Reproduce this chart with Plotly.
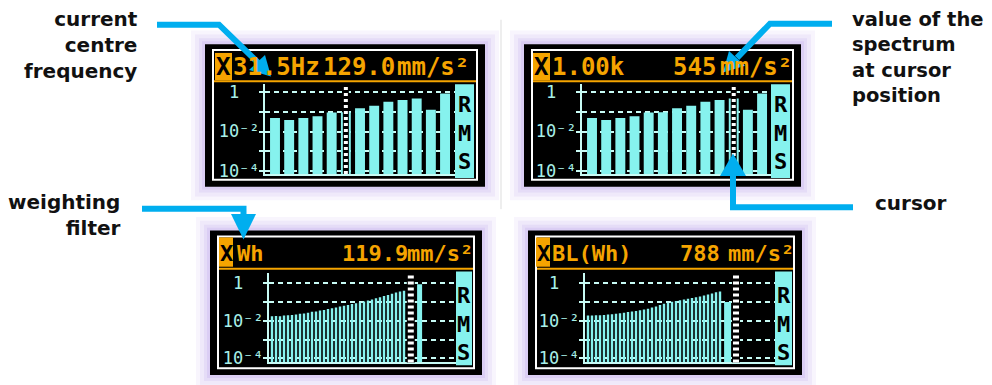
import plotly.graph_objects as go

W, H = 992, 385          # browser window
OFF = 8                  # default page margin around the plot div
FW, FH = W - OFF, H - OFF

# ---------------- data ----------------
octave_bands = list(range(13))
octave_rms = [0.049, 0.038, 0.049, 0.060, 0.093, 0.095, 0.15, 0.20, 0.32, 0.39, 0.47, 0.126, 0.83]

third_bands = list(range(34))
wh_rms = [0.0174, 0.0182, 0.0174, 0.0191, 0.0200, 0.0209, 0.0219, 0.0240, 0.0251, 0.0275,
          0.0302, 0.0316, 0.0355, 0.0380, 0.0427, 0.0468, 0.0513, 0.0575, 0.0646, 0.0708,
          0.0794, 0.0871, 0.0955, 0.107, 0.120, 0.138, 0.158, 0.182, 0.209, 0.240,
          0.275, 0.324, 0.363, 0.398]
bl_rms = [0.0191, 0.0191, 0.0200, 0.0200, 0.0209, 0.0219, 0.0229, 0.0240, 0.0257, 0.0275,
          0.0295, 0.0316, 0.0339, 0.0363, 0.0398, 0.0447, 0.0513, 0.0589, 0.0692, 0.0813,
          0.0933, 0.105, 0.115, 0.126, 0.138, 0.151, 0.166, 0.182, 0.200, 0.224,
          0.251, 0.288, 0.331, 0.372]
wh_total_band = [36.9]
wh_total_rms = [0.89]
bl_total_band = [34.9]
bl_total_rms = [0.10]

cursor_bands = [5, 10, 34.7, 37]
header_freq = ["31.5Hz", "1.00k", "Wh", "BL(Wh)"]
header_value = ["129.0", "545", "119.9", "788"]
unit_label = "mm/s²"
y_tick_values = [1e-4, 1e-3, 1e-2, 1e-1, 1]
y_tick_labels = ["10⁻⁴", "", "10⁻²", "", "1\u00a0\u00a0"]
side_letters = ["R", "M", "S"]

# ---------------- styles / layout ----------------
ORANGE = "#F5A400"
CYAN = "#86F2EE"
LCDLINE = "#C8FBF5"
ARROW = "#00AEEF"
MONO = "DejaVu Sans Mono"


def px(x):
    return (x - OFF) / FW


def py(y):
    return 1 - (y - OFF) / FH


panels = [
    dict(frame=(205, 43, 485, 189), xbox=(215, 232, 52, 80), underline=81,
         plot=(265, 455, 84, 176), rms=(455, 474, 84, 180),
         yr=[-4.148, 0.395], xr=[-0.706, 12.703], size=24,
         fx=231, vx=321, ux=395, ty=66, ly=134),
    dict(frame=(524, 43, 801, 189), xbox=(533, 550, 52, 80), underline=81,
         plot=(582, 771, 84, 176), rms=(771, 790, 84, 180),
         yr=[-4.148, 0.395], xr=[-0.706, 12.63], size=24,
         fx=550, vx=671, ux=718, ty=66, ly=134),
    dict(frame=(210, 234, 482, 382), xbox=(219, 233, 241, 271), underline=273,
         plot=(269, 456, 277, 369), rms=(456, 472, 276, 372),
         yr=[-4.208, 0.571], xr=[-0.75, 46.0], size=22,
         fx=235, vx=340, ux=405, ty=257, ly=330),
    dict(frame=(528, 234, 802, 382), xbox=(536, 550, 241, 271), underline=273,
         plot=(585, 775, 277, 369), rms=(775, 792, 276, 372),
         yr=[-4.208, 0.571], xr=[-0.75, 46.75], size=22,
         fx=550, vx=678, ux=726, ty=257, ly=330),
]

fig = go.Figure()

series = [
    [(octave_bands, octave_rms, 0.7)],
    [(octave_bands, octave_rms, 0.7)],
    [(third_bands, wh_rms, 0.6), (wh_total_band, wh_total_rms, 1.25)],
    [(third_bands, bl_rms, 0.6), (bl_total_band, bl_total_rms, 1.75)],
]


def sfx(n):
    return "" if n == 1 else str(n)


for n, traces in enumerate(series, start=1):
    for xs, ys, wd in traces:
        fig.add_trace(go.Bar(x=xs, y=ys, width=wd, xaxis=f"x{sfx(n)}", yaxis=f"y{sfx(n)}",
                             marker=dict(color=CYAN, line=dict(width=0)),
                             showlegend=False, hoverinfo="skip"))

shapes = []
annotations = []
layout = {}

for n, p in enumerate(panels, start=1):
    s = sfx(n)
    l, t, r, b = p["frame"]
    # glow
    for e, op in [(14, 0.10), (10, 0.14), (6, 0.18), (3, 0.22)]:
        shapes.append(dict(type="rect", xref="paper", yref="paper", layer="below",
                           x0=px(l - e), x1=px(r + e), y0=py(b + e), y1=py(t - e),
                           fillcolor=f"rgba(185,160,235,{op})", line=dict(width=0)))
    shapes.append(dict(type="rect", xref="paper", yref="paper", layer="below",
                       x0=px(l), x1=px(r), y0=py(b), y1=py(t),
                       fillcolor="black", line=dict(width=0)))
    shapes.append(dict(type="rect", xref="paper", yref="paper", layer="below",
                       x0=px(l + 8), x1=px(r - 8), y0=py(b - 7), y1=py(t + 6),
                       fillcolor="rgba(0,0,0,0)", line=dict(color="white", width=2)))
    # header
    xb0, xb1, yb0, yb1 = p["xbox"]
    shapes.append(dict(type="rect", xref="paper", yref="paper", layer="below",
                       x0=px(xb0), x1=px(xb1), y0=py(yb1), y1=py(yb0),
                       fillcolor=ORANGE, line=dict(width=0)))
    shapes.append(dict(type="line", xref="paper", yref="paper", layer="below",
                       x0=px(l + 9), x1=px(r - 9), y0=py(p["underline"]), y1=py(p["underline"]),
                       line=dict(color=ORANGE, width=2)))
    annotations.append(dict(xref="paper", yref="paper", x=px((xb0 + xb1) / 2), y=py(p["ty"]),
                            text="<b>X</b>", showarrow=False, xanchor="center", yanchor="middle",
                            font=dict(family=MONO, size=p["size"], color="black")))
    for txt, xx in [(header_freq[n - 1], p["fx"]), (header_value[n - 1], p["vx"]), (unit_label, p["ux"])]:
        annotations.append(dict(xref="paper", yref="paper", x=px(xx), y=py(p["ty"]),
                                text=f"<b>{txt}</b>", showarrow=False, xanchor="left", yanchor="middle",
                                font=dict(family=MONO, size=p["size"], color=ORANGE)))
    # RMS box
    r0, r1, rt, rb = p["rms"]
    shapes.append(dict(type="rect", xref="paper", yref="paper", layer="below",
                       x0=px(r0), x1=px(r1), y0=py(rb), y1=py(rt),
                       fillcolor=CYAN, line=dict(width=0)))
    annotations.append(dict(xref="paper", yref="paper", x=px((r0 + r1) / 2), y=py(p["ly"]),
                            text="<b>" + "<br>".join(side_letters) + "</b>", showarrow=False,
                            xanchor="center", yanchor="middle", align="center",
                            font=dict(family=MONO, size=22, color="black")))
    # axes
    a0, a1, at, ab = p["plot"]
    layout[f"xaxis{s}"] = dict(domain=[px(a0), px(a1)], range=p["xr"], anchor=f"y{s}",
                               showgrid=False, zeroline=False, showticklabels=False, ticks="",
                               showline=True, linecolor=LCDLINE, linewidth=2, fixedrange=True)
    layout[f"yaxis{s}"] = dict(domain=[py(ab), py(at)], range=p["yr"], type="log", anchor=f"x{s}",
                               tickvals=y_tick_values, ticktext=y_tick_labels,
                               tickfont=dict(family=MONO, size=17, color="#A8F0E8"),
                               ticks="outside", ticklen=4, tickwidth=2, tickcolor=LCDLINE,
                               ticklabelstandoff=-4,
                               showline=True, linecolor=LCDLINE, linewidth=2,
                               showgrid=True, gridcolor=LCDLINE, gridwidth=1.5, griddash="5px,4px",
                               zeroline=False, fixedrange=True)
    # cursor
    cw = 4 if n <= 2 else 6
    shapes.append(dict(type="line", xref=f"x{s}", yref=f"y{s} domain",
                       x0=cursor_bands[n - 1], x1=cursor_bands[n - 1], y0=0, y1=1,
                       line=dict(color="black", width=cw + 2)))
    shapes.append(dict(type="line", xref=f"x{s}", yref=f"y{s} domain",
                       x0=cursor_bands[n - 1], x1=cursor_bands[n - 1], y0=0, y1=1,
                       line=dict(color="white", width=cw, dash="3px,3px")))

# divider
shapes.append(dict(type="line", xref="paper", yref="paper", x0=px(501), x1=px(501),
                   y0=py(18), y1=py(212), line=dict(color="#DDDDDD", width=1)))


def path(points, close=False):
    sp = "M " + " L ".join(f"{px(x):.5f},{py(y):.5f}" for x, y in points)
    return sp + (" Z" if close else "")


arrows = [
    ([(157, 23), (219, 23), (258, 62)], [(271, 76), (249, 69.5), (265, 54)]),
    ([(832, 22), (770, 22), (737, 57)], [(723, 72), (745, 65), (729, 50)]),
    ([(853, 210), (733, 210), (733, 175)], [(733, 155), (720, 178), (746, 178)]),
    ([(142, 211.5), (243.5, 211.5), (243.5, 220)], [(243.5, 243), (231, 217), (256, 217)]),
]
for shaft, head in arrows:
    shapes.append(dict(type="path", xref="paper", yref="paper", path=path(shaft),
                       line=dict(color=ARROW, width=6), fillcolor="rgba(0,0,0,0)"))
    shapes.append(dict(type="path", xref="paper", yref="paper", path=path(head, True),
                       line=dict(width=0), fillcolor=ARROW))

notes = [
    ("current<br>centre<br>frequency", 140, 3, "right", "top", 20),
    ("value of the<br>spectrum<br>at cursor<br>position", 850, 4, "left", "top", 19.5),
    ("cursor", 873, 206, "left", "middle", 20),
    ("weighting<br>filter", 123, 190, "right", "top", 20),
]
for txt, xx, yy, xa, ya, fs in notes:
    annotations.append(dict(xref="paper", yref="paper", x=px(xx), y=py(yy), text=f"<b>{txt}</b>",
                            showarrow=False, xanchor=xa, yanchor=ya, align=xa,
                            font=dict(family="DejaVu Sans", size=fs, color="#111111")))

fig.update_layout(width=FW, height=FH, margin=dict(l=0, r=0, t=0, b=0),
                  paper_bgcolor="white", plot_bgcolor="black", showlegend=False,
                  shapes=shapes, annotations=annotations, **layout)

fig.write_html("out.html")
